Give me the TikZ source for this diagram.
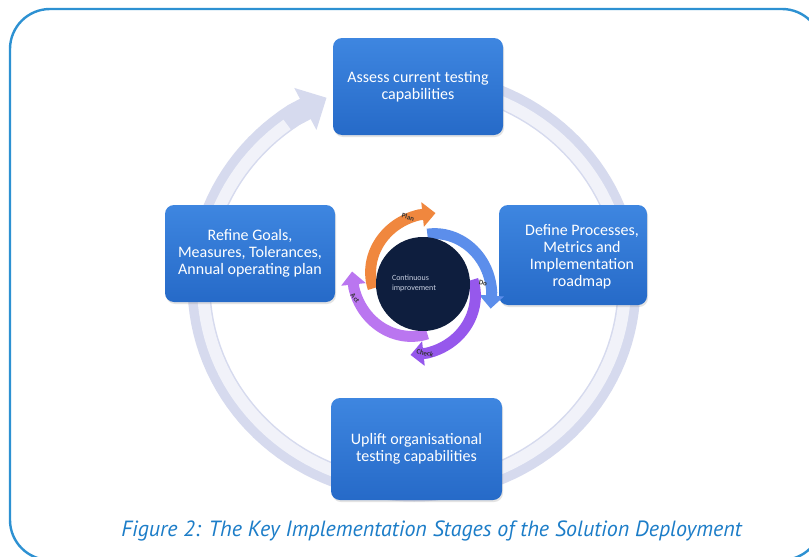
\documentclass[tikz,border=0pt]{standalone}
\usepackage{fontspec}
\setmainfont{Carlito}
\newfontfamily\capfont{PT Sans}
\usetikzlibrary{arrows.meta,shadows}
\definecolor{framec}{RGB}{45,145,210}
\definecolor{boxtop}{RGB}{62,134,224}
\definecolor{boxbot}{RGB}{38,106,200}
\definecolor{ringc}{RGB}{214,218,238}
\definecolor{ringhi}{RGB}{246,247,252}
\definecolor{navyc}{RGB}{14,30,62}
\definecolor{planc}{RGB}{240,135,62}
\definecolor{doc}{RGB}{92,142,235}
\definecolor{checkc}{RGB}{150,88,236}
\definecolor{actc}{RGB}{186,118,240}
\definecolor{capc}{RGB}{28,125,200}
\definecolor{cictext}{RGB}{200,208,225}
\newcommand\swirlarrow[2]{%
  \pgfmathsetmacro\swB{#2+92}%
  \pgfmathsetmacro\swE{#2+105}%
  \draw[swirl, #1] plot[domain=#2:\swB, samples=30]
    ({423+(50+22*(\x-#2)/105)*cos(\x)},{284+(50+22*(\x-#2)/105)*sin(\x)})
    -- ({423+72*cos(\swE)},{284+72*sin(\swE)});
}
\begin{document}
\begin{tikzpicture}[x=1pt,y=-1pt,
  stage/.style={rounded corners=9pt, top color=boxtop, bottom color=boxbot,
    draw=none, text=white, font=\fontsize{16}{17}\selectfont, align=center,
    inner sep=0pt, drop shadow={opacity=0.22,shadow xshift=1pt,shadow yshift=-2pt}},
  stagetext/.style={text=white, font=\fontsize{16}{17}\selectfont, align=center, inner sep=0pt},
  ringband/.style={ringc, line width=23pt, -{Triangle[width=46pt,length=24pt]}},
  swirl/.style={line width=11pt, -{Triangle[width=24pt,length=13pt]}},
  swlabel/.style={font=\fontsize{7}{8}\selectfont\bfseries, text=black!80, inner sep=0pt}]
\useasboundingbox (0,0) rectangle (809,557);
\clip (0,0) rectangle (809,557);
\fill[white] (0,0) rectangle (809,557);
% outer frame
\draw[framec, line width=2.4pt, rounded corners=40pt] (10,9) rectangle (822,560);
% ring arrow
\draw[ringband] plot[domain=-80:236, samples=120] ({414+215*cos(\x)},{285+205*sin(\x)})
  -- ({414+215*cos(246)},{285+205*sin(246)});
\draw[ringhi, line width=12pt, opacity=0.85] plot[domain=-80:233, samples=120] ({414+211*cos(\x)},{285+201*sin(\x)});
% stages
\node[stage, minimum width=170pt, minimum height=97pt] (assess) at (418,86.5)
  {Assess current testing\\capabilities};
\node[stage, minimum width=148pt, minimum height=100pt] (define) at (573,255) {};
\node[stagetext] (definetext) at (582,257) {Define Processes,\\Metrics and\\Implementation\\roadmap};
\node[stage, minimum width=171pt, minimum height=102pt] (uplift) at (416.5,449)
  {Uplift organisational\\testing capabilities};
\node[stage, minimum width=170pt, minimum height=97pt] (refine) at (250,253.5)
  {Refine Goals,\\Measures, Tolerances,\\Annual operating plan};
% PDCA swirl
\swirlarrow{planc}{175}
\swirlarrow{doc}{275}
\swirlarrow{checkc}{355}
\swirlarrow{actc}{85}
\node[circle, fill=navyc, minimum size=94pt, inner sep=0pt] (ci) at (423,284) {};
\node[text=cictext, font=\fontsize{8}{10}\selectfont, align=left, inner sep=0pt] (citext) at (414,283)
  {Continuous\\improvement};
\node[swlabel, rotate=-15] (plan) at (408,217) {Plan};
\node[swlabel, rotate=-10] (do) at (483,283) {Do};
\node[swlabel, rotate=-15] (check) at (425,353) {Check};
\node[swlabel, rotate=-50] (act) at (355,298) {A\kern0.6pt ct};
% caption
\node[font=\capfont\itshape\fontsize{22}{26}\selectfont, text=capc, inner sep=0pt] (caption) at (431.5,531)
  {Figure 2: The Key Implementation Stages of the Solution Deployment};
\end{tikzpicture}
\end{document}
